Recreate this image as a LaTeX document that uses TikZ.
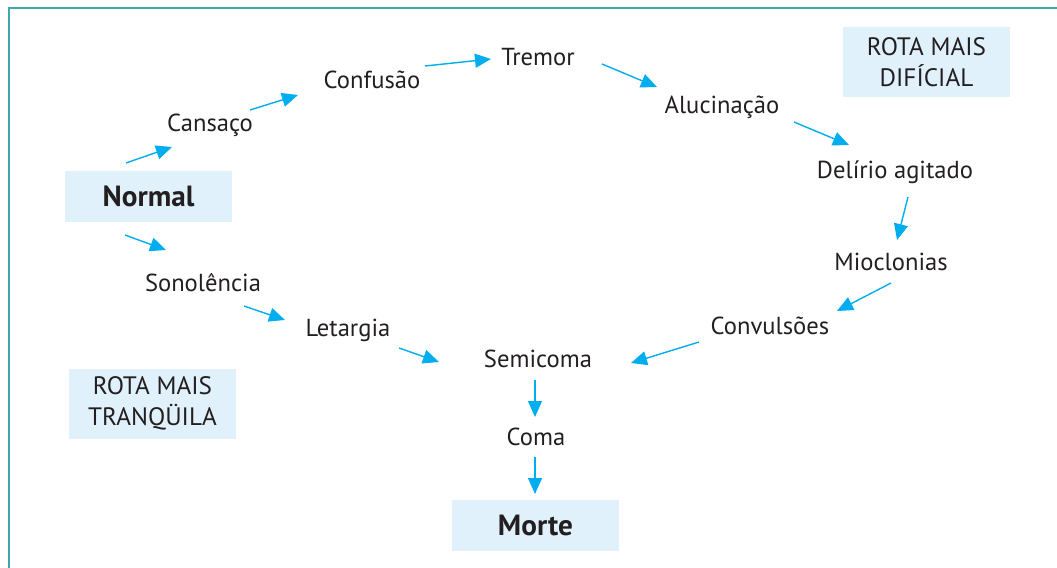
\documentclass[tikz,border=0pt]{standalone}
\usepackage{fontspec}
\setmainfont{PT Sans}
\usetikzlibrary{arrows.meta}
\definecolor{flowblue}{RGB}{0,174,239}
\definecolor{paleblue}{RGB}{224,241,251}
\definecolor{frameteal}{RGB}{64,168,172}
\definecolor{inkgray}{RGB}{35,31,32}
\tikzset{
  stage/.style={
    inner sep=0pt, text=inkgray,
    font=\fontsize{12.3}{15}\selectfont
  },
  end box/.style={
    rectangle, fill=paleblue, text=inkgray,
    minimum width=83.5pt, minimum height=25.5pt,
    inner sep=0pt, font=\fontsize{14.6}{17}\selectfont\bfseries
  },
  route box/.style={
    rectangle, fill=paleblue, text=inkgray, align=center,
    minimum width=83.5pt, minimum height=35pt,
    inner sep=0pt, font=\fontsize{12.6}{15.5}\selectfont
  },
  flow arrow/.style={-{Triangle[length=8pt,width=7pt]}, line width=0.7pt, flowblue}
}

\begin{document}
\begin{tikzpicture}[x=0.5pt, y=-0.5pt]
    \useasboundingbox (0,0) rectangle (1057,568);
    \draw[frameteal, line width=1pt] (1057,8) -- (9,8) -- (9,568);

    \node[route box] (hardroute) at (926.5,62) {ROTA MAIS\\DIFÍCIAL};
    \node[route box] (calmroute) at (152.5,403.5) {ROTA MAIS\\TRANQÜILA};

    \node[end box] (normal) at (148.5,196) {Normal};
    \node[stage] (cansaco) at (210,125) {Cansaço};
    \node[stage] (confusao) at (372,80) {Confusão};
    \node[stage] (tremor) at (538,57) {Tremor};
    \node[stage] (alucinacao) at (722,107) {Alucinação};
    \node[stage] (delirio) at (895,172) {Delírio agitado};
    \node[stage] (mioclonias) at (891,262) {Mioclonias};
    \node[stage] (convulsoes) at (770,326) {Convulsões};
    \node[stage] (sonolencia) at (203,283) {Sonolência};
    \node[stage] (letargia) at (348,330) {Letargia};
    \node[stage] (semicoma) at (538,359) {Semicoma};
    \node[stage] (coma) at (536,437) {Coma};
    \node[end box] (morte) at (535.5,525.5) {Morte};

    % harder route, over the top
    \draw[flow arrow] ([shift={(-22.5,-33)}]normal.center) -- ([shift={(-38,22)}]cansaco.center);
    \draw[flow arrow] ([shift={(40,-15)}]cansaco.center) -- ([shift={(-74,15)}]confusao.center);
    \draw[flow arrow] ([shift={(53,-14)}]confusao.center) -- ([shift={(-47,2)}]tremor.center);
    \draw[flow arrow] ([shift={(64,7)}]tremor.center) -- ([shift={(-65,-20)}]alucinacao.center);
    \draw[flow arrow] ([shift={(72,15)}]alucinacao.center) -- ([shift={(-46,-27)}]delirio.center);
    \draw[flow arrow] ([shift={(13,25)}]delirio.center) -- ([shift={(6,-22)}]mioclonias.center);
    \draw[flow arrow] ([shift={(0,21)}]mioclonias.center) -- ([shift={(67,-15)}]convulsoes.center);
    \draw[flow arrow] ([shift={(-71,16)}]convulsoes.center) -- ([shift={(93,4)}]semicoma.center);

    % calmer route, underneath
    \draw[flow arrow] ([shift={(-23.5,39)}]normal.center) -- ([shift={(-37,-33)}]sonolencia.center);
    \draw[flow arrow] ([shift={(41,23)}]sonolencia.center) -- ([shift={(-63,-10)}]letargia.center);
    \draw[flow arrow] ([shift={(51,18)}]letargia.center) -- ([shift={(-99,3)}]semicoma.center);

    % shared ending
    \draw[flow arrow] ([shift={(-3,21)}]semicoma.center) -- ([shift={(-1,-20)}]coma.center);
    \draw[flow arrow] ([shift={(-1,20)}]coma.center) -- ([shift={(-0.5,-31.5)}]morte.center);
  \end{tikzpicture}
\end{document}
